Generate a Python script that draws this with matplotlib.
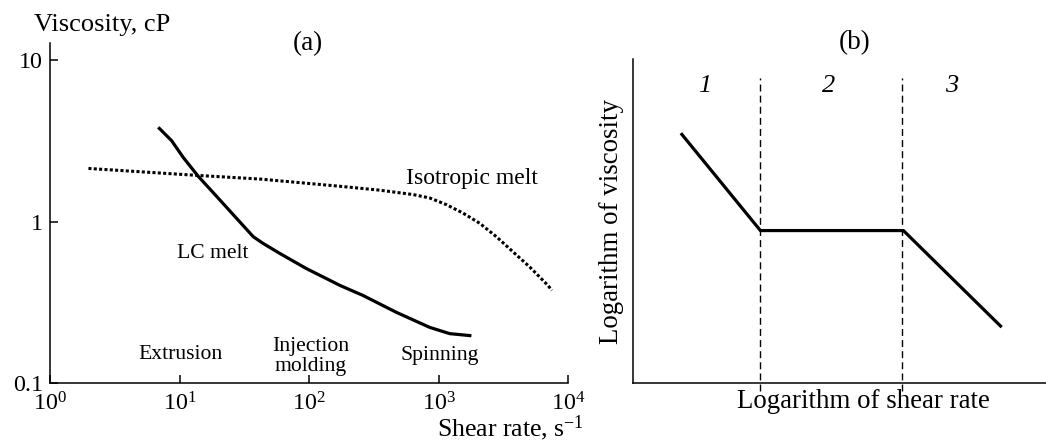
import matplotlib
matplotlib.use("Agg")
import matplotlib.pyplot as plt

plt.rcParams['font.family'] = ['Liberation Serif', 'DejaVu Serif']
plt.rcParams['mathtext.fontset'] = 'custom'
plt.rcParams['mathtext.rm'] = 'Liberation Serif'
plt.rcParams['mathtext.it'] = 'Liberation Serif:italic'

# ---- data (panel a) ----
lc_rate = [6.85, 8.69, 10.7, 13.9, 19.3, 27.6, 37.1, 44.2, 59.5, 95.6, 145, 173, 261, 473, 855, 1220, 1795]
lc_visc = [3.85, 3.18, 2.50, 1.92, 1.44, 1.05, 0.809, 0.735, 0.637, 0.513, 0.434, 0.404, 0.350, 0.275, 0.222, 0.203, 0.197]
iso_rate = [1.98, 13.5, 41.7, 173, 352, 636, 855, 1151, 1546, 2078, 2797, 3758, 5054, 6998, 7510]
iso_visc = [2.14, 1.94, 1.84, 1.66, 1.57, 1.475, 1.405, 1.277, 1.132, 0.980, 0.809, 0.652, 0.526, 0.404, 0.376]
x_ticks = [1, 10, 100, 1000, 10000]
x_tick_labels = ['$\\mathregular{10^{0}}$', '$\\mathregular{10^{1}}$', '$\\mathregular{10^{2}}$',
                 '$\\mathregular{10^{3}}$', '$\\mathregular{10^{4}}$']
y_ticks = [0.1, 1, 10]
y_tick_labels = ['0.1', '1', '10']

# ---- data (panel b, schematic) ----
b_x = [0.119, 0.309, 0.655, 0.890]
b_y = [0.767, 0.470, 0.470, 0.175]
region_bounds = [0.309, 0.652]
region_labels = ['1', '2', '3']
region_label_x = [0.175, 0.473, 0.772]

W, H = 1046, 441
fig = plt.figure(figsize=(W / 100, H / 100), dpi=100)

def fx(px):
    return px / W

def fy(py):
    return 1 - py / H

# ---------- panel (a) ----------
ax = fig.add_axes([fx(50), fy(383.3), fx(568) - fx(50), fy(43) - fy(383.3)])
ax.set_xscale('log')
ax.set_yscale('log')
ax.set_xlim(1, 1e4)
ax.set_ylim(0.1, 12.8)
ax.plot(lc_rate, lc_visc, color='black', lw=2.3, solid_capstyle='butt', solid_joinstyle='round')
ax.plot(iso_rate, iso_visc, color='black', lw=2.2, linestyle=(0, (1, 0.75)), dash_capstyle='butt')
ax.set_xticks(x_ticks)
ax.set_xticklabels(x_tick_labels)
ax.set_yticks(y_ticks)
ax.set_yticklabels(y_tick_labels)
ax.minorticks_off()
ax.tick_params(direction='in', length=6, width=1.1, labelsize=17.3, pad=5)
ax.tick_params(axis='x', pad=6.5)
for s in ['top', 'right']:
    ax.spines[s].set_visible(False)
for s in ['left', 'bottom']:
    ax.spines[s].set_linewidth(1.1)

ax.text(565, 1.86, 'Isotropic melt', fontsize=17, ha='left', va='center')
ax.text(18.0, 0.637, 'LC melt', fontsize=15.6, ha='center', va='center')
ax.text(10.1, 0.151, 'Extrusion', fontsize=15.6, ha='center', va='center')
ax.text(103, 0.146, 'Injection\nmolding', fontsize=15.6, ha='center', va='center', linespacing=1.05)
ax.text(1018, 0.148, 'Spinning', fontsize=15.6, ha='center', va='center')

fig.text(fx(102), fy(25), 'Viscosity, cP', fontsize=19, ha='center', va='center')
fig.text(fx(308), fy(43.3), '(a)', fontsize=19.5, ha='center', va='center')
fig.text(fx(437), fy(436), 'Shear rate, s$^{\\mathregular{-1}}$', fontsize=18.5, ha='left', va='baseline')

# ---------- panel (b) ----------
bx = fig.add_axes([fx(632.7), fy(382.7), 1 - fx(632.7), fy(59) - fy(382.7)])
bx.set_xlim(0, 1)
bx.set_ylim(0, 1)
bx.plot(b_x, b_y, color='black', lw=2.3, solid_joinstyle='miter')
for xb in region_bounds:
    bx.plot([xb, xb], [-0.025, 0.941], color='black', lw=1.0, linestyle=(0, (5, 3)), clip_on=False)
for lab, xl in zip(region_labels, region_label_x):
    bx.text(xl, 0.916, lab, fontsize=19, style='italic', ha='center', va='center')
bx.set_xticks([])
bx.set_yticks([])
for s in ['top', 'right']:
    bx.spines[s].set_visible(False)
for s in ['left', 'bottom']:
    bx.spines[s].set_linewidth(1.1)

fig.text(fx(611.7), fy(221.7), 'Logarithm of viscosity', fontsize=19.4, rotation=90, ha='center', va='center')
fig.text(fx(863.7), fy(401.7), 'Logarithm of shear rate', fontsize=19.4, ha='center', va='center')
fig.text(fx(855), fy(43), '(b)', fontsize=19.5, ha='center', va='center')

fig.savefig('out.png', dpi=100)
